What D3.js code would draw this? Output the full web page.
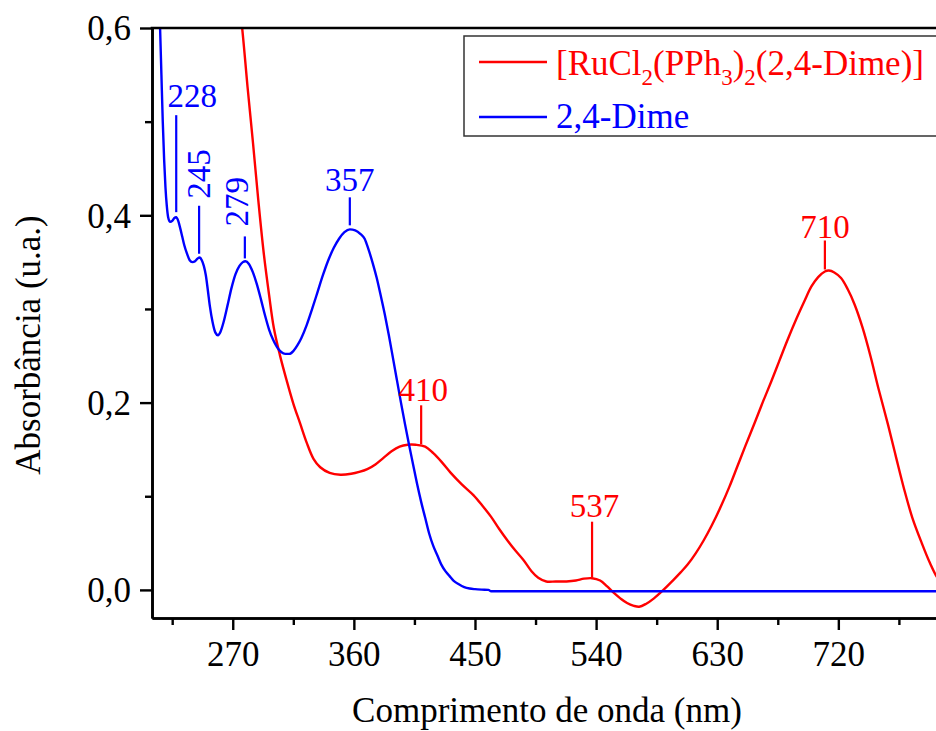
<!DOCTYPE html>
<html>
<head>
<meta charset="utf-8">
<script src="https://cdn.jsdelivr.net/npm/d3@7"></script>
<style>
  body { margin: 0; background: #fff; }
  svg { display: block; }
</style>
</head>
<body>
<svg id="chart" width="936" height="731"></svg>
<script>
// UV-Vis spectra: wavelength (nm) and absorbance (u.a.)
const dimeWavelength = [212, 214, 216, 217, 218, 219, 220, 221, 222, 223.5, 225, 226.5, 228, 229.5, 231, 232.5,
  234, 236, 238, 240, 242, 244, 245.5, 247, 248.5, 250, 251.5, 253, 255, 257, 259, 261, 263, 266, 269, 272,
  275, 277.5, 279.5, 282, 285, 288, 291, 294, 297, 300, 303, 306, 309, 312, 315, 318, 321, 325, 329, 333,
  337, 341, 345, 349, 353, 357, 361, 365, 368, 371, 374, 377, 380, 383, 386, 389, 392, 395, 398, 401, 404,
  407, 410, 413, 416, 419, 422, 425, 428, 431, 434, 438, 442, 446, 450, 455, 460, 462, 500, 600, 700, 800];
const dimeAbsorbance = [0.80, 0.68, 0.60, 0.55, 0.50, 0.46, 0.43, 0.41, 0.398, 0.393, 0.394, 0.397, 0.398, 0.394, 0.386, 0.377,
  0.368, 0.359, 0.352, 0.350, 0.351, 0.354, 0.355, 0.352, 0.346, 0.336, 0.320, 0.303, 0.286, 0.275, 0.272, 0.276, 0.285, 0.303, 0.322, 0.337,
  0.346, 0.350, 0.351, 0.348, 0.339, 0.326, 0.310, 0.293, 0.278, 0.267, 0.259, 0.254, 0.252, 0.252, 0.255, 0.261, 0.269, 0.283, 0.300, 0.318,
  0.336, 0.352, 0.365, 0.375, 0.382, 0.385, 0.384, 0.380, 0.375, 0.363, 0.349, 0.333, 0.314, 0.294, 0.272, 0.248, 0.224, 0.200, 0.177, 0.155, 0.134,
  0.113, 0.094, 0.077, 0.060, 0.047, 0.037, 0.027, 0.020, 0.015, 0.010, 0.006, 0.003, 0.0015, 0.0008, 0.0003, 0.0, -0.0015, -0.0015, -0.0015, -0.0015, -0.0015];

const complexWavelength = [262, 270, 277, 281, 285, 289, 293, 297, 300.5, 305, 310, 315, 320, 325, 330, 335, 342, 350,
  358, 364, 370, 376, 382, 388, 394, 400, 406, 413, 419, 425, 432, 440, 449, 456, 462, 468, 474, 480, 486, 492,
  497, 503, 510, 518, 525, 531, 537, 543, 548, 553, 558, 563, 568, 572, 577, 583, 590, 597, 603, 608, 614, 620,
  626, 633, 639, 645, 651, 658, 664, 670, 676, 682, 689, 695, 700, 705, 710, 713, 717, 722, 727, 732, 738, 744,
  750, 757, 763, 769, 775, 782, 788, 794, 800];
const complexAbsorbance = [0.80, 0.69, 0.600, 0.537, 0.478, 0.416, 0.360, 0.315, 0.280, 0.251, 0.224, 0.199, 0.178, 0.157, 0.140, 0.131, 0.125, 0.123,
  0.124, 0.126, 0.129, 0.134, 0.141, 0.148, 0.153, 0.155, 0.155, 0.153, 0.146, 0.137, 0.125, 0.113, 0.101, 0.089, 0.078, 0.065, 0.053, 0.042, 0.032, 0.020,
  0.013, 0.009, 0.009, 0.009, 0.010, 0.012, 0.0125, 0.010, 0.004, -0.003, -0.009, -0.014, -0.017, -0.018, -0.015, -0.009, 0.000, 0.010, 0.019, 0.027, 0.039, 0.053,
  0.069, 0.090, 0.110, 0.132, 0.154, 0.179, 0.201, 0.222, 0.244, 0.266, 0.290, 0.309, 0.324, 0.334, 0.340, 0.341, 0.339, 0.333, 0.321, 0.305, 0.280, 0.249,
  0.214, 0.176, 0.141, 0.107, 0.077, 0.050, 0.029, 0.012, 0.002];

// Axis ticks
const xTickValues = [270, 360, 450, 540, 630, 720];
const xMinorTickValues = [225, 315, 405, 495, 585, 675, 765];
const yTickValues = [0, 0.2, 0.4, 0.6];
const yMinorTickValues = [0.1, 0.3, 0.5];

// Labelled band maxima (nm)
const dimePeaks = [228, 245, 279, 357];
const complexPeaks = [410, 537, 710];

// Series names and colours
const seriesNames = ["[RuCl2(PPh3)2(2,4-Dime)]", "2,4-Dime"];
const seriesColors = ["#ff0000", "#0000ff"];

const xTitle = "Comprimento de onda (nm)";
const yTitle = "Absorbância (u.a.)";

const FONT = '"Liberation Serif", "Times New Roman", serif';

// ---- layout ----
const svg = d3.select("#chart");
const plotLeft = 152, plotRight = 946, plotTop = 28, plotBottom = 618;
const x = d3.scaleLinear().domain([210, 800]).range([plotLeft, plotRight]);
const y = d3.scaleLinear().domain([-0.03, 0.6]).range([plotBottom, plotTop]);

svg.append("rect").attr("width", 936).attr("height", 731).attr("fill", "#fff");

svg.append("defs").append("clipPath").attr("id", "plot-clip")
  .append("rect").attr("x", plotLeft).attr("y", plotTop)
  .attr("width", plotRight - plotLeft).attr("height", plotBottom - plotTop);

const zip = (xs, ys) => xs.map((w, i) => ({ w, a: ys[i] }));
const dime = zip(dimeWavelength, dimeAbsorbance);
const complex = zip(complexWavelength, complexAbsorbance);

const dimeLine = d3.line().x(d => x(d.w)).y(d => y(d.a)).curve(d3.curveMonotoneX);
const complexLine = d3.line().x(d => x(d.w)).y(d => y(d.a)).curve(d3.curveCatmullRom.alpha(0.5));

const plot = svg.append("g").attr("clip-path", "url(#plot-clip)");
plot.append("path").datum(complex).attr("d", complexLine)
  .attr("fill", "none").attr("stroke", seriesColors[0]).attr("stroke-width", 2.4).attr("stroke-linejoin", "round");
plot.append("path").datum(dime).attr("d", dimeLine)
  .attr("fill", "none").attr("stroke", seriesColors[1]).attr("stroke-width", 2.4).attr("stroke-linejoin", "round");

// ---- axes ----
const axisStroke = g => {
  g.select(".domain").attr("stroke", "#000").attr("stroke-width", 2.6);
  g.selectAll(".tick line").attr("stroke", "#000").attr("stroke-width", 2.4);
};

svg.append("g").attr("transform", `translate(0,${plotBottom})`)
  .call(d3.axisBottom(x).tickValues(xMinorTickValues).tickSize(7).tickSizeOuter(0).tickFormat(""))
  .call(axisStroke);
svg.append("g").attr("transform", `translate(0,${plotBottom})`)
  .call(d3.axisBottom(x).tickValues(xTickValues).tickSize(12).tickSizeOuter(0).tickFormat(d3.format("d")))
  .call(axisStroke)
  .call(g => g.selectAll("text").attr("y", 48).attr("dy", null)
    .style("font-family", FONT).style("font-size", "35px").attr("fill", "#000"));

const commaFormat = d => d3.format(".1f")(d).replace(".", ",");
svg.append("g").attr("transform", `translate(${plotLeft},0)`)
  .call(d3.axisLeft(y).tickValues(yMinorTickValues).tickSize(7).tickSizeOuter(0).tickFormat(""))
  .call(axisStroke);
svg.append("g").attr("transform", `translate(${plotLeft},0)`)
  .call(d3.axisLeft(y).tickValues(yTickValues).tickSize(12).tickSizeOuter(0).tickFormat(commaFormat))
  .call(axisStroke)
  .call(g => g.selectAll("text").attr("x", -21).attr("dy", "0.34em")
    .style("font-family", FONT).style("font-size", "35px").attr("fill", "#000"));

// top frame line
svg.append("line").attr("x1", plotLeft - 1.3).attr("x2", plotRight).attr("y1", plotTop).attr("y2", plotTop)
  .attr("stroke", "#000").attr("stroke-width", 2.6);

// axis titles
svg.append("text").attr("x", (plotLeft + plotRight) / 2 - 2).attr("y", 722)
  .attr("text-anchor", "middle").style("font-family", FONT).style("font-size", "35px")
  .attr("fill", "#000").text(xTitle);
svg.append("text").attr("transform", "translate(40,345) rotate(-90)")
  .attr("text-anchor", "middle").style("font-family", FONT).style("font-size", "35px")
  .attr("fill", "#000").text(yTitle);

// ---- peak markers ----
function valueAt(series, w) {
  const i = d3.bisector(d => d.w).left(series, w);
  if (i <= 0) return series[0].a;
  if (i >= series.length) return series[series.length - 1].a;
  const p = series[i - 1], q = series[i];
  return p.a + (q.a - p.a) * (w - p.w) / (q.w - p.w);
}

// gap: space above the curve, len: marker length, dx/lift: label offset
const peakLayout = {
  228: { gap: 5, len: 97, rotate: false, dx: 16, lift: 8 },
  245: { gap: 4, len: 48, rotate: true, dx: 11, lift: 7 },
  279: { gap: 3, len: 22, rotate: true, dx: 3.5, lift: 10 },
  357: { gap: 4, len: 28, rotate: false, dx: 0, lift: 6.5 },
  410: { gap: 1.5, len: 39, rotate: false, dx: 2, lift: 4 },
  537: { gap: 0.5, len: 56, rotate: false, dx: 2.5, lift: 5 },
  710: { gap: 2, len: 29, rotate: false, dx: 0, lift: 2.5 }
};

function drawPeaks(series, peaks, color) {
  const g = svg.append("g");
  peaks.forEach(w => {
    const lay = peakLayout[w];
    const px = x(w);
    const y0 = y(valueAt(series, w)) - lay.gap;
    const y1 = y0 - lay.len;
    g.append("line").attr("x1", px).attr("x2", px).attr("y1", y0).attr("y2", y1)
      .attr("stroke", color).attr("stroke-width", 2.2);
    const t = g.append("text").style("font-family", FONT).style("font-size", "33px")
      .attr("fill", color).text(String(w));
    if (lay.rotate) {
      t.attr("transform", `translate(${px + lay.dx},${y1 - lay.lift}) rotate(-90)`).attr("text-anchor", "start");
    } else {
      t.attr("x", px + lay.dx).attr("y", y1 - lay.lift).attr("text-anchor", "middle");
    }
  });
}
drawPeaks(dime, dimePeaks, seriesColors[1]);
drawPeaks(complex, complexPeaks, seriesColors[0]);

// ---- legend ----
const legend = svg.append("g");
legend.append("rect").attr("x", 464).attr("y", 36).attr("width", 500).attr("height", 100)
  .attr("fill", "#fff").attr("stroke", "#333").attr("stroke-width", 1.5);

const rows = [{ y: 62, base: 75 }, { y: 117, base: 128 }];
rows.forEach((r, i) => {
  legend.append("line").attr("x1", 479).attr("x2", 547).attr("y1", r.y).attr("y2", r.y)
    .attr("stroke", seriesColors[i]).attr("stroke-width", 2.4);
});

// formula with subscripted digits after letters/brackets
function formulaParts(name) {
  const parts = [];
  const re = /([A-Za-z\)])(\d)/g;
  let last = 0, m;
  while ((m = re.exec(name)) !== null) {
    parts.push({ t: name.slice(last, m.index + 1), sub: false });
    parts.push({ t: m[2], sub: true });
    last = m.index + 2;
  }
  parts.push({ t: name.slice(last), sub: false });
  return parts;
}

seriesNames.forEach((name, i) => {
  const t = legend.append("text").attr("x", 556).attr("y", rows[i].base)
    .style("font-family", FONT).style("font-size", "35px").attr("fill", seriesColors[i]);
  if (i === 0) {
    let shifted = false;
    formulaParts(name).forEach(p => {
      if (!p.t) return;
      const ts = t.append("tspan").text(p.t);
      if (p.sub) { ts.style("font-size", "23px").attr("dy", 10); shifted = true; }
      else if (shifted) { ts.attr("dy", -10); shifted = false; }
    });
  } else {
    t.text(name);
  }
});
</script>
</body>
</html>
